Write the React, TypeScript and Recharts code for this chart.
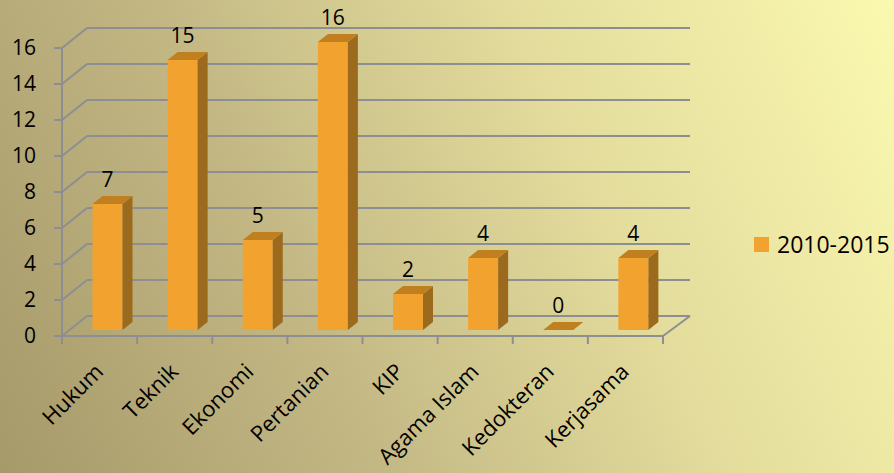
import React from 'react';
import { BarChart, Bar, XAxis, YAxis, CartesianGrid, LabelList, Legend } from 'recharts';

const categories = ['Hukum', 'Teknik', 'Ekonomi', 'Pertanian', 'KIP', 'Agama Islam', 'Kedokteran', 'Kerjasama'];
const values2010_2015 = [7, 15, 5, 16, 2, 4, 0, 4];
const yTicks = [0, 2, 4, 6, 8, 10, 12, 14, 16];
const seriesName = '2010-2015';

const data = categories.map((name, i) => ({ name, value: values2010_2015[i] }));

const FONT = '"Open Sans", "Liberation Sans", sans-serif';
const GRID = '#8d8e93';
const FRONT = '#f2a22f';
const SIDE = '#9b6a1c';
const TOP = '#c0801f';
const DX = 25;
const DY = -20;

const Bar3D = (props: any) => {
  const { x, y, width, height } = props;
  const ox = 7.5;
  const oy = -6;
  const d = 10;
  const dd = -8;
  const fx = x + ox;
  const fy = y + oy;
  const h = Math.max(0, height);
  return (
    <g>
      {h > 0 && <rect x={fx} y={fy} width={width} height={h} fill={FRONT} />}
      {h > 0 && (
        <polygon
          points={`${fx + width},${fy} ${fx + width + d},${fy + dd} ${fx + width + d},${fy + dd + h} ${fx + width},${fy + h}`}
          fill={SIDE}
        />
      )}
      <polygon
        points={`${fx},${fy} ${fx + d},${fy + dd} ${fx + width + d},${fy + dd} ${fx + width},${fy}`}
        fill={TOP}
      />
    </g>
  );
};

const GridLine = (props: any) => {
  const { x1, x2, y1, index } = props;
  const isZero = Math.abs(y1 - 336) < 1;
  return (
    <g key={`g-${index}-${y1}`}>
      <line x1={x1} y1={y1} x2={x1 + DX} y2={y1 + DY} stroke={GRID} strokeWidth={2} />
      <line x1={x1 + DX} y1={y1 + DY} x2={x2 + DX + 2} y2={y1 + DY} stroke={GRID} strokeWidth={2} />
      {isZero && <line x1={x2} y1={y1} x2={x2 + DX + 2} y2={y1 + DY} stroke={GRID} strokeWidth={2} />}
    </g>
  );
};

const XTick = (props: any) => {
  const { x, y, payload, index, visibleTicksCount } = props;
  const half = payload && payload.offset ? payload.offset : 37.6;
  const last = index === (visibleTicksCount ?? categories.length) - 1;
  return (
    <g>
      <line x1={x - half} y1={y} x2={x - half} y2={y + 8} stroke={GRID} strokeWidth={2} />
      {last && <line x1={x + half} y1={y} x2={x + half} y2={y + 8} stroke={GRID} strokeWidth={2} />}
      <text
        x={0}
        y={0}
        transform={`translate(${x + 5},${y + 37}) rotate(-45)`}
        textAnchor="end"
        fontFamily={FONT}
        fontSize={22}
        fill="#000"
      >
        {payload.value}
      </text>
    </g>
  );
};

const ValueLabel = (props: any) => {
  const { x, y, width, value } = props;
  return (
    <text
      x={x + width / 2 + 7.5}
      y={y - 23}
      textAnchor="middle"
      fontFamily={FONT}
      fontSize={21}
      fill="#000"
    >
      {value}
    </text>
  );
};

const LegendContent = () => (
  <div style={{ display: 'flex', alignItems: 'center', fontFamily: FONT, fontSize: 23, color: '#000' }}>
    <span style={{ display: 'inline-block', width: 15, height: 15, background: FRONT, marginRight: 8 }} />
    <span>{seriesName}</span>
  </div>
);

export default function App() {
  return (
    <div
      style={{
        position: 'absolute',
        left: 0,
        top: 0,
        width: 894,
        height: 473,
        background: 'linear-gradient(65deg, #a6996a 0%, #c4b985 35%, #e3dc9c 65%, #fbf9b0 100%)',
      }}
    >
      <BarChart width={894} height={473} data={data} margin={{ top: 48, right: 231, bottom: 0, left: 0 }}>
        <CartesianGrid vertical={false} horizontal={GridLine as any} stroke={GRID} />
        <XAxis
          dataKey="name"
          interval={0}
          height={137}
          tickSize={0}
          tickMargin={0}
          tickLine={false}
          axisLine={{ stroke: GRID, strokeWidth: 2 }}
          tick={XTick as any}
        />
        <YAxis
          domain={[0, 16]}
          ticks={yTicks}
          interval={0}
          width={62}
          tickSize={8}
          tickMargin={18}
          axisLine={{ stroke: GRID, strokeWidth: 2 }}
          tickLine={{ stroke: GRID, strokeWidth: 2 }}
          tick={{ fontFamily: FONT, fontSize: 21, fill: '#000' }}
        />
        <Legend
          layout="horizontal"
          verticalAlign="middle"
          align="center"
          wrapperStyle={{ position: 'absolute', left: 754, top: 228, width: 140 }}
          content={LegendContent as any}
        />
        <Bar dataKey="value" name={seriesName} barSize={30} shape={Bar3D as any} isAnimationActive={false}>
          <LabelList dataKey="value" content={ValueLabel as any} />
        </Bar>
      </BarChart>
    </div>
  );
}
